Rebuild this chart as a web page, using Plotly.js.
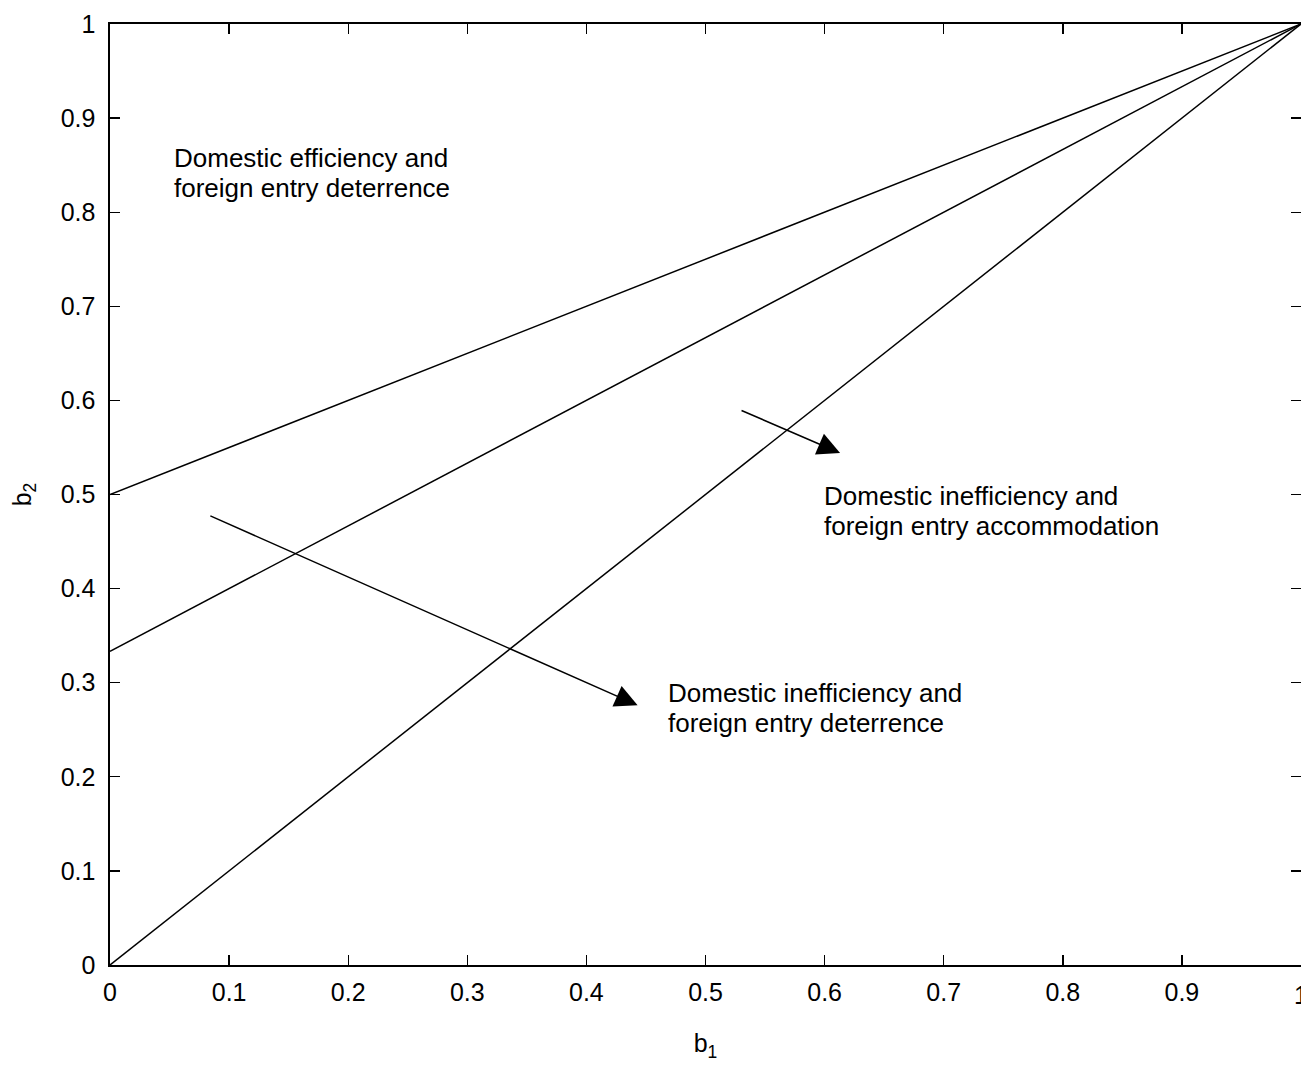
<!DOCTYPE html>
<html>
<head>
<meta charset="utf-8">
<script src="https://cdn.plot.ly/plotly-3.0.1.min.js"></script>
<style>html,body{margin:0;padding:0;background:#fff;}#chart{width:1301px;height:1068px;}</style>
</head>
<body>
<div id="chart"></div>
<script>
// Boundary lines in (b1, b2) space
const b1Points = [0, 1];
const lineDiagonal = [0, 1];          // b2 = b1
const lineThird = [0.3333, 1];        // b2 = 1/3 + 2/3 b1
const lineHalf = [0.5, 1];            // b2 = 1/2 + 1/2 b1

// Region labels (two lines each)
const labelLine1 = ["Domestic efficiency and", "Domestic inefficiency and", "Domestic inefficiency and"];
const labelLine2 = ["foreign entry deterrence", "foreign entry accommodation", "foreign entry deterrence"];
const labelX = [0.052, 0.598, 0.467];
const labelY1 = [0.858, 0.498, 0.289];
const labelY2 = [0.826, 0.466, 0.257];

// Arrows: tail -> head
const arrowTailX = [0.083, 0.529];
const arrowTailY = [0.478, 0.590];
const arrowHeadX = [0.443, 0.613];
const arrowHeadY = [0.276, 0.544];

const xTicks = [0, 0.1, 0.2, 0.3, 0.4, 0.5, 0.6, 0.7, 0.8, 0.9, 1];
const xTickText = ["0", "0.1", "0.2", "0.3", "0.4", "0.5", "0.6", "0.7", "0.8", "0.9", "1"];
const yTicks = [0, 0.1, 0.2, 0.3, 0.4, 0.5, 0.6, 0.7, 0.8, 0.9, 1];
const yTickText = ["0", "0.1", "0.2", "0.3", "0.4", "0.5", "0.6", "0.7", "0.8", "0.9", "1"];

const FONT = "Liberation Sans, Arial, Helvetica, sans-serif";
const lineStyle = {color: "#000", width: 1.5};
const traces = [lineDiagonal, lineThird, lineHalf].map(ys => ({
  x: b1Points, y: ys, mode: "lines", line: lineStyle, hoverinfo: "skip", showlegend: false, cliponaxis: false
}));

const annotations = [];
labelLine1.forEach((t, i) => {
  [[t, labelY1[i]], [labelLine2[i], labelY2[i]]].forEach(([txt, yy]) => {
    annotations.push({
      x: labelX[i], y: yy, xref: "x", yref: "y", text: txt, showarrow: false,
      xanchor: "left", yanchor: "middle", align: "left",
      font: {family: FONT, size: 26, color: "#000"}
    });
  });
});
arrowTailX.forEach((_, i) => {
  annotations.push({
    x: arrowHeadX[i], y: arrowHeadY[i], ax: arrowTailX[i], ay: arrowTailY[i],
    xref: "x", yref: "y", axref: "x", ayref: "y", text: "",
    showarrow: true, arrowhead: 2, arrowsize: 3, arrowwidth: 1.5, arrowcolor: "#000"
  });
});
// last x tick label (cut by the right edge, as in the reference)
annotations.push({
  x: xTicks[xTicks.length - 1], y: 0, xref: "x", yref: "paper", yshift: -30,
  text: xTickText[xTickText.length - 1], showarrow: false, xanchor: "center", yanchor: "middle",
  font: {family: FONT, size: 25, color: "#000"}
});

const axisCommon = {
  range: [0, 1], showgrid: false, zeroline: false, showline: true, linecolor: "#000", linewidth: 1.6,
  mirror: "ticks", ticks: "inside", ticklen: 10, tickwidth: 1.4, tickcolor: "#000",
  tickfont: {family: FONT, size: 25, color: "#000"},
  tickmode: "array", fixedrange: true
};

const layout = {
  width: 1301, height: 1068,
  margin: {l: 110, r: 0, t: 24, b: 103},
  paper_bgcolor: "#fff", plot_bgcolor: "#fff",
  showlegend: false,
  xaxis: Object.assign({}, axisCommon, {
    tickvals: xTicks, ticktext: xTickText, ticklabelstandoff: 4,
    title: {text: "b<sub>1</sub>", standoff: 30, font: {family: FONT, size: 25, color: "#000"}}
  }),
  yaxis: Object.assign({}, axisCommon, {
    tickvals: yTicks, ticktext: yTickText, ticklabelstandoff: 8,
    title: {text: "b<sub>2</sub>", standoff: 22, font: {family: FONT, size: 25, color: "#000"}}
  }),
  annotations: annotations
};

Plotly.newPlot("chart", traces, layout, {displayModeBar: false, staticPlot: true});
</script>
</body>
</html>
